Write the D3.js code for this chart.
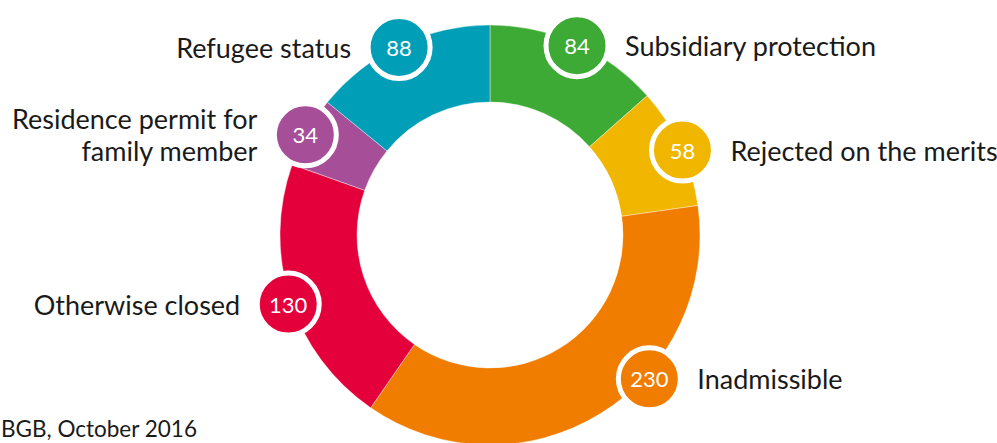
<!DOCTYPE html>
<html>
<head>
<meta charset="utf-8">
<script src="https://cdn.jsdelivr.net/npm/d3@7"></script>
<style>
  html, body { margin: 0; padding: 0; background: #fff; }
  svg { display: block; font-family: Lato, "Open Sans", sans-serif; }
</style>
</head>
<body>
<svg id="chart" width="997" height="443"></svg>
<script>
// decisions, clockwise from the top
var categories = ["Subsidiary protection", "Rejected on the merits", "Inadmissible",
                  "Otherwise closed", "Residence permit for family member", "Refugee status"];
var values = [84, 58, 230, 130, 34, 88];
var colors = ["#3daa35", "#f1b600", "#f07d00", "#e4003a", "#a74e98", "#009fb7"];
var labelLines = [["Subsidiary protection"], ["Rejected on the merits"], ["Inadmissible"],
                  ["Otherwise closed"], ["Residence permit for", "family member"], ["Refugee status"]];
var sourceText = "BGB, October 2016";

var svg = d3.select("#chart");
var cx = 490, cy = 235, outerR = 210, innerR = 133;
var bubbleR = 31, bubbleDist = 212, bubbleDrop = 4, textGap = 48;
// the big bubble is pulled up so it stays in the frame
var angleNudge = {"Inadmissible": -17 * Math.PI / 180};

var pie = d3.pie().sort(null).value(function (d) { return d; });
var arc = d3.arc().innerRadius(innerR).outerRadius(outerR);
var arcs = pie(values);

var g = svg.append("g").attr("transform", "translate(" + cx + "," + cy + ")");

g.selectAll("path.slice")
    .data(arcs)
    .enter()
    .append("path")
    .attr("class", "slice")
    .attr("d", arc)
    .attr("fill", function (d, i) { return colors[i]; })
    .attr("stroke", "#fff")
    .attr("stroke-width", 0.4);

var labels = g.selectAll("g.lbl")
    .data(arcs)
    .enter()
    .append("g")
    .attr("class", "lbl")
    .attr("transform", function (d, i) {
        var a = (d.startAngle + d.endAngle) / 2 + (angleNudge[categories[i]] || 0);
        d.lx = Math.sin(a) * bubbleDist;
        d.ly = -Math.cos(a) * bubbleDist + bubbleDrop;
        return "translate(" + d.lx + "," + d.ly + ")";
    });

labels.append("circle")
    .attr("r", bubbleR)
    .attr("fill", function (d, i) { return colors[i]; })
    .attr("stroke", "#fff")
    .attr("stroke-width", 5);

labels.append("text")
    .attr("text-anchor", "middle")
    .attr("dominant-baseline", "central")
    .attr("fill", "#fff")
    .attr("font-size", 22)
    .text(function (d) { return d.data; });

labels.each(function (d, i) {
    var right = d.lx > 0;
    var lines = labelLines[i];
    var t = d3.select(this).append("text")
        .attr("text-anchor", right ? "start" : "end")
        .attr("fill", "#1a1a1a")
        .attr("font-size", 27);
    lines.forEach(function (line, k) {
        t.append("tspan")
            .attr("x", right ? textGap : -textGap)
            .attr("y", (k - (lines.length - 1) / 2) * 32)
            .attr("dominant-baseline", "central")
            .text(line);
    });
});

svg.append("text")
    .attr("x", 1)
    .attr("y", 437)
    .attr("font-size", 22.5)
    .attr("fill", "#1a1a1a")
    .text(sourceText);
</script>
</body>
</html>
